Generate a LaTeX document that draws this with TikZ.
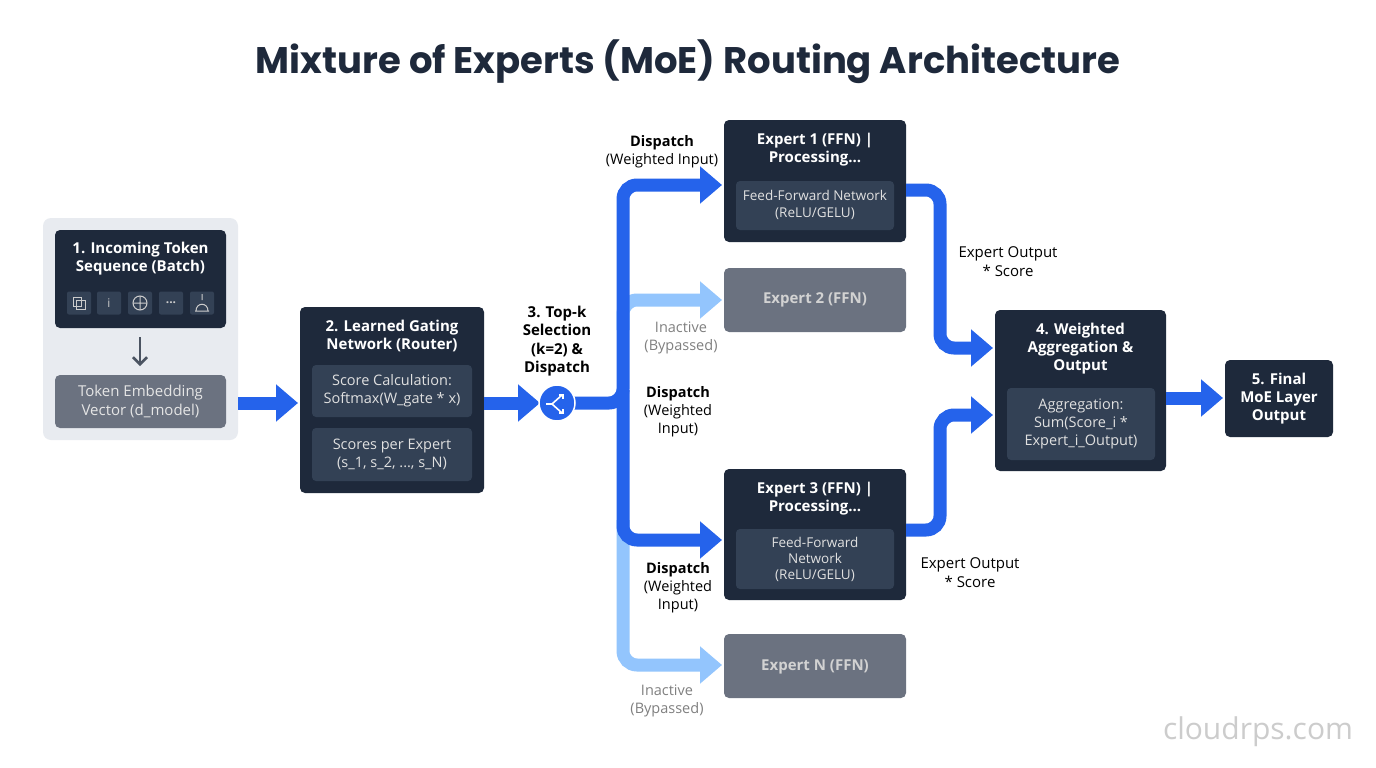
\documentclass[tikz,border=0pt]{standalone}
\usepackage{fontspec}
\setmainfont{Open Sans}
\newfontfamily\titlefont{Poppins}
\usetikzlibrary{arrows.meta}
\definecolor{dark}{HTML}{1E293B}
\definecolor{inner}{HTML}{334155}
\definecolor{grayb}{HTML}{6B7280}
\definecolor{blu}{HTML}{2563EB}
\definecolor{lblu}{HTML}{93C5FD}
\definecolor{panel}{HTML}{E8EBF0}
\tikzset{
 px/.style={x=1pt,y=-1pt},
 darkbox/.style={fill=dark,rounded corners=5pt},
 innerbox/.style={fill=inner,rounded corners=4pt},
 graybox/.style={fill=grayb,rounded corners=5pt},
 ttl/.style={text=white,font=\fontsize{15}{18}\selectfont\bfseries,align=center},
 body/.style={text=white!88!black,font=\fontsize{13.5}{17}\selectfont,align=center},
 lbl/.style={text=black,font=\fontsize{14.5}{18}\selectfont,align=center},
 glbl/.style={text=gray,font=\fontsize{14.5}{18}\selectfont,align=center},
 flow/.style={line width=13pt,blu,rounded corners=14pt,-{Triangle[length=22pt,width=36pt]}},
 lflow/.style={line width=13pt,lblu,rounded corners=14pt,-{Triangle[length=22pt,width=36pt]}},
 icon/.style={fill=inner,rounded corners=2pt,minimum width=24pt,minimum height=23pt,inner sep=0pt,text=white!80!black,font=\fontsize{12}{12}\selectfont},
}
\begin{document}
\begin{tikzpicture}[px]
\useasboundingbox[fill=white] (0,0) rectangle (1376,768);
\node[text=dark,font=\titlefont\fontsize{37}{40}\selectfont\bfseries] (title) at (688,62) {Mixture of Experts (MoE) Routing Architecture};
% left panel
\fill[panel,rounded corners=8pt] (43,218) rectangle (238,440);
\fill[darkbox] (55,230) rectangle (226,328);
\node[ttl] (t1) at (140.5,259) {1. Incoming Token\\Sequence (Batch)};
\node[icon] (i1) at (79,303) {};
\draw[white!80!black,line width=1pt] (73,297) rectangle (81,306) (76,300) rectangle (85,309);
\node[icon] (i2) at (109,303) {i};
\node[icon] (i3) at (140,303) {};
\draw[white!80!black,line width=1pt] (140,303) circle (7pt) (133,303) -- (147,303) (140,296)--(140,310);
\node[icon] (i4) at (171,303) {\textbf{...}};
\node[icon] (i5) at (202,303) {};
\draw[white!80!black,line width=1pt] (202,294)--(202,300) (195,311) -- (209,311) (196,311) .. controls (196,302) and (208,302) .. (208,311);
\fill[grayb,rounded corners=5pt] (55,375) rectangle (226,428);
\node[body,text=white!90!black,font=\fontsize{15}{19}\selectfont] (emb) at (140.5,401.5) {Token Embedding\\Vector (d\_model)};
\draw[dark!80,line width=2.5pt,-{Straight Barb[length=7pt,width=14pt]}] (140,337) -- (140,366);
% router
\fill[darkbox] (300,307) rectangle (484,493);
\node[ttl] (t2) at (392,335.5) {2. Learned Gating\\Network (Router)};
\fill[innerbox] (312,365) rectangle (472,417);
\node[body,font=\fontsize{14.5}{18}\selectfont] (sc) at (392,391) {Score Calculation:\\Softmax(W\_gate * x)};
\fill[innerbox] (312,428) rectangle (472,481);
\node[body,font=\fontsize{14.5}{18}\selectfont] (sp) at (392,454.5) {Scores per Expert\\(s\_1, s\_2, ..., s\_N)};
\coordinate (embR) at (238,403); \coordinate (rtL) at (298,403);
\draw[flow] (embR) -- (rtL);
\coordinate (rtR) at (484,403); \coordinate (cirL) at (540,403);
\draw[flow] (rtR) -- (cirL);
% topk
\node[lbl,font=\fontsize{15}{18.5}\selectfont\bfseries] (tk) at (557,341) {3. Top-k\\Selection\\(k=2) \&\\Dispatch};
% branches
\coordinate (cirR) at (570,403);
\draw[lflow] (623,330) -- (623,300) -- (722,300);
\draw[lflow] (623,520) -- (623,665) -- (722,665);
\draw[flow] (cirR) -- (623,403) -- (623,185) -- (722,185);
\draw[flow] (623,390) -- (623,540) -- (722,540);
\node[circle,fill=blu,draw=white,line width=1.5pt,minimum size=36pt] (cir) at (557,403) {};
\draw[white,line width=1.6pt] (546,404) -- (552,404) -- (562,395) (552,404) -- (562,413);
\draw[white,line width=1.6pt] (559,395) -- (563,395) -- (563,399) (559,413)--(563,413)--(563,409);
% experts
\fill[darkbox] (724,120) rectangle (906,242);
\node[ttl] (e1) at (815,149.5) {Expert 1 (FFN) |\\Processing...};
\fill[innerbox] (736,181) rectangle (894,230);
\node[body] (e1b) at (815,205) {Feed-Forward Network\\(ReLU/GELU)};
\fill[graybox] (724,268) rectangle (906,332);
\node[ttl,text=white!65!gray] (e2) at (815,300) {Expert 2 (FFN)};
\fill[darkbox] (724,469) rectangle (906,600);
\node[ttl] (e3) at (815,498.5) {Expert 3 (FFN) |\\Processing...};
\fill[innerbox] (736,529) rectangle (894,589);
\node[body,font=\fontsize{13.5}{16}\selectfont] (e3b) at (815,559) {Feed-Forward\\Network\\(ReLU/GELU)};
\fill[graybox] (724,634) rectangle (906,698);
\node[ttl,text=white!65!gray] (eN) at (815,667) {Expert N (FFN)};
% labels
\node[lbl] (d1) at (662,152) {\textbf{Dispatch}\\(Weighted Input)};
\node[glbl] (in1) at (681,338) {Inactive\\(Bypassed)};
\node[lbl] (d2) at (678,412) {\textbf{Dispatch}\\(Weighted\\Input)};
\node[lbl] (d3) at (678,588) {\textbf{Dispatch}\\(Weighted\\Input)};
\node[glbl] (in2) at (667,701) {Inactive\\(Bypassed)};
\node[lbl,font=\fontsize{15}{19}\selectfont] (o1) at (1008,261.5) {Expert Output\\* Score};
\node[lbl,font=\fontsize{15}{19}\selectfont] (o3) at (970,573) {Expert Output\\* Score};
% aggregation
\coordinate (e1R) at (906,190); \coordinate (agL1) at (993,348);
\draw[flow] (e1R) -- (940,190) -- (940,348) -- (agL1);
\coordinate (e3R) at (906,530); \coordinate (agL2) at (993,415);
\draw[flow] (e3R) -- (940,530) -- (940,415) -- (agL2);
\fill[darkbox] (995,310) rectangle (1166,471);
\node[ttl] (t4) at (1080.5,348.5) {4. Weighted\\Aggregation \&\\Output};
\fill[innerbox] (1007,388) rectangle (1155,460);
\node[body,font=\fontsize{14.5}{18}\selectfont] (agg) at (1081,424) {Aggregation:\\Sum(Score\_i *\\Expert\_i\_Output)};
\coordinate (agR) at (1166,398); \coordinate (fL) at (1223,398);
\draw[flow] (agR) -- (fL);
\fill[darkbox] (1225,360) rectangle (1333,437);
\node[ttl] (t5) at (1279,399) {5. Final\\MoE Layer\\Output};
\node[text=black!20,font=\fontsize{30}{30}\selectfont] (wm) at (1258,732) {cloudrps.com};
\end{tikzpicture}
\end{document}
